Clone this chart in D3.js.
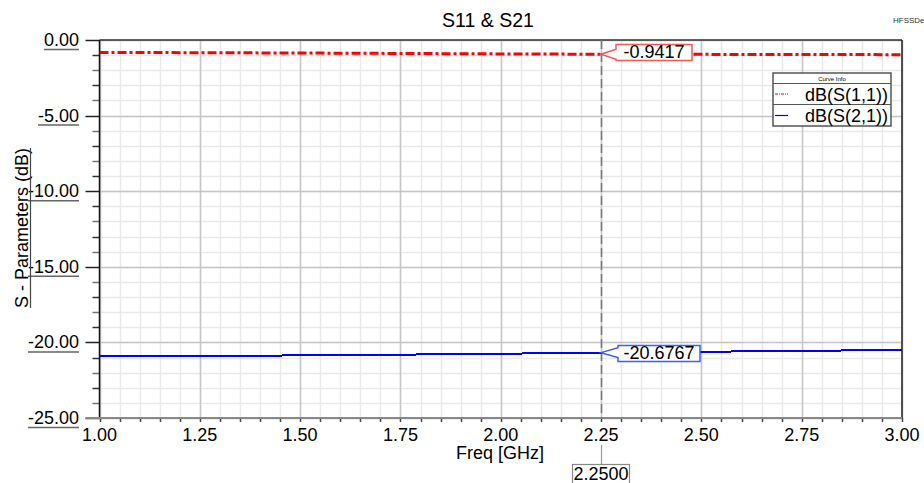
<!DOCTYPE html>
<html>
<head>
<meta charset="utf-8">
<script src="https://cdn.jsdelivr.net/npm/d3@7"></script>
<style>
  body { margin: 0; background: #fff; }
  svg { display: block; font-family: "Liberation Sans", Arial, sans-serif; }
</style>
</head>
<body>
<script>
// data
var freqs = [1.00, 1.25, 1.50, 1.75, 2.00, 2.25, 2.50, 2.75, 3.00];
var s11 = [-0.82, -0.84, -0.86, -0.89, -0.92, -0.9417, -0.95, -0.96, -0.97];
var s21 = [-20.93, -20.90, -20.86, -20.81, -20.75, -20.6767, -20.62, -20.56, -20.50];
var xTicks = [1.00, 1.25, 1.50, 1.75, 2.00, 2.25, 2.50, 2.75, 3.00];
var yTicks = [0, -5, -10, -15, -20, -25];
var markerFreq = 2.25;
var markerS11 = -0.9417;
var markerS21 = -20.6767;

var W = 924, H = 483;
var x0 = 99.5, x1 = 902, y0 = 40, y1 = 418;
var fs = "18px";

var svg = d3.select("body").append("svg")
    .attr("width", W)
    .attr("height", H);

var xScale = d3.scaleLinear().domain([1, 3]).range([x0, x1]);
var yScale = d3.scaleLinear().domain([-25, 0]).range([y1, y0]);

// grid - minor then major
var minorX = d3.range(1, 3.0001, 0.05);
var minorY = d3.range(-25, 0.0001, 1);

svg.append("g").selectAll("line")
    .data(minorX)
    .enter().append("line")
    .attr("x1", function (d) { return Math.round(xScale(d)) + 0.5; })
    .attr("x2", function (d) { return Math.round(xScale(d)) + 0.5; })
    .attr("y1", y0).attr("y2", y1)
    .style("stroke", "#e9e9e9").style("stroke-width", 1.5);

svg.append("g").selectAll("line")
    .data(minorY)
    .enter().append("line")
    .attr("y1", function (d) { return Math.round(yScale(d)) + 0.5; })
    .attr("y2", function (d) { return Math.round(yScale(d)) + 0.5; })
    .attr("x1", x0).attr("x2", x1)
    .style("stroke", "#e9e9e9").style("stroke-width", 1.5);

svg.append("g").selectAll("line")
    .data(xTicks)
    .enter().append("line")
    .attr("x1", function (d) { return Math.round(xScale(d)) + 0.5; })
    .attr("x2", function (d) { return Math.round(xScale(d)) + 0.5; })
    .attr("y1", y0).attr("y2", y1)
    .style("stroke", "#c6c6c6").style("stroke-width", 1.5);

svg.append("g").selectAll("line")
    .data(yTicks)
    .enter().append("line")
    .attr("y1", function (d) { return Math.round(yScale(d)) + 0.5; })
    .attr("y2", function (d) { return Math.round(yScale(d)) + 0.5; })
    .attr("x1", x0).attr("x2", x1)
    .style("stroke", "#c6c6c6").style("stroke-width", 1.5);

// frame
svg.append("line")
    .attr("x1", x0).attr("x2", x1).attr("y1", y0).attr("y2", y0)
    .style("stroke", "#333").style("stroke-width", 1.5);
svg.append("line")
    .attr("x1", x1).attr("x2", x1).attr("y1", y0).attr("y2", y1)
    .style("stroke", "#222").style("stroke-width", 1.5);

// y axis ticks
svg.append("g").selectAll("line")
    .data(minorY)
    .enter().append("line")
    .attr("y1", function (d) { return Math.round(yScale(d)) + 0.5; })
    .attr("y2", function (d) { return Math.round(yScale(d)) + 0.5; })
    .attr("x1", function (d) { return d % 5 === 0 ? x0 - 14 : x0 - 7; })
    .attr("x2", x0)
    .style("stroke", function (d) { return d % 5 === 0 ? "#222" : (Math.abs(d) % 2 ? "#333" : "#777"); })
    .style("stroke-width", 1.5);

svg.append("line")
    .attr("x1", x0).attr("x2", x0).attr("y1", y0).attr("y2", y1)
    .style("stroke", "#111").style("stroke-width", 1.5);

// x axis
svg.append("g").selectAll("line")
    .data(minorX)
    .enter().append("line")
    .attr("x1", function (d) { return Math.round(xScale(d)) + 0.5; })
    .attr("x2", function (d) { return Math.round(xScale(d)) + 0.5; })
    .attr("y1", y1).attr("y2", y1 + 4)
    .style("stroke", "#444").style("stroke-width", 1.5);

svg.append("line")
    .attr("x1", x0 - 14).attr("x2", x1).attr("y1", y1).attr("y2", y1)
    .style("stroke", "#888").style("stroke-width", 2);

// tick labels
svg.append("g").selectAll("text")
    .data(xTicks)
    .enter().append("text")
    .attr("x", function (d) { return xScale(d); })
    .attr("y", 441)
    .attr("text-anchor", "middle")
    .style("font-size", fs)
    .text(function (d) { return d.toFixed(2); });

var yLab = svg.append("g").selectAll("g")
    .data(yTicks)
    .enter().append("g");

yLab.append("text")
    .attr("x", 79)
    .attr("y", function (d) { return yScale(d) + 6; })
    .attr("text-anchor", "end")
    .style("font-size", fs)
    .text(function (d) { return d.toFixed(2); });

yLab.each(function (d) {
    var t = d3.select(this).select("text").node();
    var w = t.getComputedTextLength();
    d3.select(this).append("line")
        .attr("x1", 79 - w).attr("x2", 79)
        .attr("y1", yScale(d) + 9.5).attr("y2", yScale(d) + 9.5)
        .style("stroke", "#666").style("stroke-width", 1.5);
});

// axis titles
var yTitle = svg.append("text")
    .attr("transform", "translate(28,228) rotate(-90)")
    .attr("text-anchor", "middle")
    .style("font-size", fs)
    .text("S - Parameters (dB)");
var ytw = yTitle.node().getComputedTextLength();
svg.append("line")
    .attr("x1", 30.5).attr("x2", 30.5)
    .attr("y1", 228 - ytw / 2).attr("y2", 228 + ytw / 2)
    .style("stroke", "#444").style("stroke-width", 1.2);

svg.append("text")
    .attr("x", 500).attr("y", 459)
    .attr("text-anchor", "middle")
    .style("font-size", fs)
    .text("Freq [GHz]");

svg.append("text")
    .attr("x", 488).attr("y", 27)
    .attr("text-anchor", "middle")
    .style("font-size", "19.5px")
    .text("S11 & S21");

svg.append("text")
    .attr("x", 893).attr("y", 23)
    .style("font-size", "8px")
    .style("fill", "#333")
    .text("HFSSDe");

// marker line
var mx = Math.round(xScale(markerFreq)) + 0.5;
svg.append("line")
    .attr("x1", mx).attr("x2", mx).attr("y1", y0).attr("y2", y1)
    .style("stroke", "#777").style("stroke-width", 1.5)
    .style("stroke-dasharray", "9,4");
svg.append("line")
    .attr("x1", mx).attr("x2", mx).attr("y1", 445).attr("y2", 464)
    .style("stroke", "#999").style("stroke-width", 1.2);

// curves
svg.append("defs").append("clipPath")
    .attr("id", "clip")
    .append("rect")
    .attr("x", x0).attr("y", y0)
    .attr("width", x1 - x0).attr("height", y1 - y0);

var line = d3.line()
    .x(function (d) { return xScale(d[0]); })
    .y(function (d) { return yScale(d[1]); });

svg.append("path")
    .datum(d3.zip(freqs, s11))
    .attr("clip-path", "url(#clip)")
    .attr("d", line)
    .style("fill", "none")
    .style("stroke", "#ff0000")
    .style("stroke-width", 3)
    .style("stroke-dasharray", "9,3,3,3");

svg.append("path")
    .datum(d3.zip(freqs, s21))
    .attr("clip-path", "url(#clip)")
    .attr("d", line)
    .attr("shape-rendering", "crispEdges")
    .style("fill", "none")
    .style("stroke", "#0000ff")
    .style("stroke-width", 2);

// marker callouts
function callout(val, left, top, w, h, col) {
    var tx = xScale(markerFreq), ty = yScale(val);
    var g = svg.append("g");
    var p = "M" + tx + "," + ty +
        "L" + left + "," + (ty - 5) +
        "L" + left + "," + top +
        "L" + (left + w) + "," + top +
        "L" + (left + w) + "," + (top + h) +
        "L" + left + "," + (top + h) +
        "L" + left + "," + (ty + 5) + "Z";
    g.append("path")
        .attr("d", p)
        .style("fill", "#fff")
        .style("stroke", col)
        .style("stroke-width", 1.5);
    g.append("text")
        .attr("x", left + w / 2).attr("y", top + h - 2.5)
        .attr("text-anchor", "middle")
        .style("font-size", fs)
        .text(val.toFixed(4));
}
callout(markerS11, 616, 44.5, 76, 16, "#f25a5a");
callout(markerS21, 618, 345.5, 82, 16, "#3c5cff");

// bottom marker value
svg.append("rect")
    .attr("x", 572.5).attr("y", 464.5)
    .attr("width", 57).attr("height", 20)
    .style("fill", "#fff").style("stroke", "#888").style("stroke-width", 1.2);
svg.append("text")
    .attr("x", 601).attr("y", 480)
    .attr("text-anchor", "middle")
    .style("font-size", fs)
    .text(markerFreq.toFixed(4));

// legend
var lg = svg.append("g").attr("transform", "translate(773,73)");
lg.append("rect")
    .attr("width", 118).attr("height", 53)
    .style("fill", "#fff").style("stroke", "#555").style("stroke-width", 1.5);
lg.append("line")
    .attr("x1", 0).attr("x2", 118).attr("y1", 10.5).attr("y2", 10.5)
    .style("stroke", "#555").style("stroke-width", 1.2);
lg.append("line")
    .attr("x1", 0).attr("x2", 118).attr("y1", 31.5).attr("y2", 31.5)
    .style("stroke", "#555").style("stroke-width", 1.2);
lg.append("text")
    .attr("x", 59).attr("y", 8)
    .attr("text-anchor", "middle")
    .style("font-size", "6px")
    .text("Curve Info");

var legendNames = ["dB(S(1,1))", "dB(S(2,1))"];
var legendCols = ["#ff0000", "#0000ff"];
var legendDash = ["3,1,1,1", null];
legendNames.forEach(function (n, i) {
    var cy = 21 + i * 21.5;
    lg.append("line")
        .attr("x1", 2).attr("x2", 15).attr("y1", cy).attr("y2", cy)
        .style("stroke", legendCols[i]).style("stroke-width", 1.2)
        .style("stroke-dasharray", legendDash[i]);
    lg.append("text")
        .attr("x", 115).attr("y", cy + 6.5)
        .attr("text-anchor", "end")
        .style("font-size", fs)
        .text(n);
});
</script>
</body>
</html>
